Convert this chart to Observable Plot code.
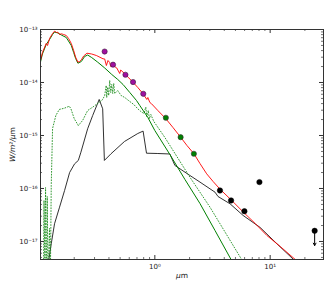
<!DOCTYPE html>
<html><head><meta charset="utf-8">
<script src="https://cdn.jsdelivr.net/npm/d3@7"></script>
<script src="https://cdn.jsdelivr.net/npm/@observablehq/plot@0.6"></script>
<style>html,body{margin:0;padding:0;background:#fff;} svg{display:block}</style>
</head><body><div id="chart"></div>
<script>
// ---- data (wavelength in µm, flux in W/m²/µm) ----
const redUm   = [0.101,0.106,0.1143,0.1174,0.1222,0.1298,0.135,0.1406,0.1443,0.1492,0.1545,0.1617,0.1707,0.1787,0.1886,0.1977,0.2056,0.2153,0.2228,0.2305,0.2414,0.2579,0.2833,0.3113,0.3553,0.3674,0.3801,0.3925,0.4062,0.4143,0.4339,0.4674,0.4961,0.5061,0.5483,0.5942,0.6476,0.7114,0.791,0.852,0.8694,0.9048,0.936,1.062,1.246,1.434,1.673,1.898,2.183,2.462,2.816,3.194,3.673,4.645,5.859,7.406,9.36,12.22,16.5,20.1];
const redFlux = [2.38e-14,3.68e-14,5.44e-14,4.99e-14,6.76e-14,8.40e-14,9.29e-14,8.78e-14,8.89e-14,8.05e-14,8.30e-14,8.05e-14,7.70e-14,6.76e-14,5.44e-14,4.02e-14,3.00e-14,2.42e-14,2.49e-14,2.68e-14,3.16e-14,3.57e-14,3.45e-14,3.23e-14,2.80e-14,2.78e-14,2.09e-14,2.60e-14,2.38e-14,2.00e-14,2.09e-14,1.88e-14,1.48e-14,1.72e-14,1.46e-14,1.22e-14,1.01e-14,8.05e-15,6.12e-15,4.78e-15,5.21e-15,4.20e-15,3.97e-15,2.96e-15,2.07e-15,1.42e-15,9.29e-16,6.48e-16,4.52e-16,2.96e-16,1.89e-16,1.36e-16,9.70e-17,5.94e-17,3.57e-17,2.19e-17,1.30e-17,8.05e-18,4.57e-18,3.16e-18];

const starUm   = [0.101,0.106,0.1143,0.1222,0.1298,0.135,0.1443,0.1545,0.1707,0.1886,0.1977,0.2056,0.2153,0.2305,0.2461,0.2615,0.2833,0.3194,0.3674,0.4227,0.4769,0.5300,0.6063,0.6933,0.7406,0.8694,1.0,1.3504,1.8236,2.462,3.325,4.580,5.5];
const starFlux = [2.23e-14,3.45e-14,5.21e-14,6.48e-14,8.05e-14,8.97e-14,8.59e-14,7.87e-14,7.06e-14,4.99e-14,3.68e-14,2.84e-14,2.31e-14,2.49e-14,3.09e-14,3.30e-14,2.96e-14,2.42e-14,1.88e-14,1.42e-14,1.14e-14,9.17e-15,6.48e-15,4.57e-15,3.68e-15,2.19e-15,1.24e-15,4.38e-16,1.48e-16,5.21e-17,1.61e-17,4.57e-18,2.2e-18];

const dotUm   = [0.1083,0.1094,0.1116,0.1128,0.1151,0.1167,0.1186,0.1222,0.1242,0.1264,0.1298,0.1386,0.1484,0.1640,0.1813,0.1872,0.2002,0.2170,0.2365,0.2615,0.2890,0.3304,0.3530,0.3674,0.3787,0.3825,0.3903,0.3981,0.4062,0.4143,0.4227,0.4312,0.4400,0.4490,0.4769,0.5093,0.5483,0.6063,0.6566,0.7114,0.7556,0.8024,0.8350,0.852,0.8781,0.8958,0.9230,0.9802,1.222,2.015,3.007,5.675,6.5];
const dotFlux = [2e-18,5.94e-17,2e-18,1.04e-16,2e-18,7.06e-17,2e-18,1.76e-17,2e-18,1.14e-16,1.36e-15,2.38e-15,3.10e-15,3.27e-15,3.57e-15,3.19e-15,2.07e-15,1.54e-15,1.92e-15,2.96e-15,3.42e-15,4.25e-15,4.78e-15,5.69e-15,8.78e-15,5.21e-15,8.15e-15,5.69e-15,1.09e-14,6.48e-15,9.17e-15,6.20e-15,9.57e-15,6.20e-15,7.06e-15,5.69e-15,5.21e-15,4.38e-15,3.85e-15,3.19e-15,2.84e-15,2.60e-15,3.42e-15,2.28e-15,2.96e-15,2.07e-15,2.49e-15,1.84e-15,9.17e-16,1.63e-16,4.44e-17,4.52e-18,2.5e-18];

const dustUm   = [0.118,0.1205,0.1264,0.135,0.1492,0.1650,0.1824,0.2015,0.2170,0.2286,0.2615,0.2890,0.3292,0.3530,0.3652,0.4169,0.5450,0.7114,0.791,0.8468,1.062,1.3504,1.4924,2.015,2.462,3.325,3.530,4.489,5.824,8.185,11.44,15.94,20];
const dustFlux = [3e-18,4.57e-18,9.05e-18,2.16e-17,4.44e-17,9.17e-17,2.00e-16,2.92e-16,3.38e-16,4.84e-16,1.34e-15,2.38e-15,4.78e-15,3.19e-15,3.38e-16,4.52e-16,7.70e-16,1.09e-15,1.21e-15,4.63e-16,4.57e-16,4.48e-16,2.72e-16,1.76e-16,1.32e-16,8.51e-17,7.06e-17,5.14e-17,3.10e-17,1.84e-17,9.05e-18,4.57e-18,2.88e-18];

const optUm   = [0.367,0.434,0.556,0.647,0.794];
const optFlux = [3.84e-14,2.17e-14,1.40e-14,1.02e-14,6.12e-15];
const nirUm   = [1.246,1.673,2.18];
const nirFlux = [2.16e-15,9.29e-16,4.52e-16];
const mirUm   = [3.67,4.58,5.98,8.07,24.3];
const mirFlux = [9.16e-17,5.94e-17,3.73e-17,1.32e-16,1.59e-17];
const limitUm = [24.3];
const limitFrom = [1.59e-17];
const limitTo = [8.4e-18];

const xDomain = [0.102, 29];
const yDomain = [4.57e-18, 1e-13];
const xMajor = [1, 10];
const xMinor = [0.2,0.3,0.4,0.5,0.6,0.7,0.8,0.9,2,3,4,5,6,7,8,9,20];
const yMajor = [1e-17,1e-16,1e-15,1e-14,1e-13];
const yMinor = [5e-18,6e-18,7e-18,8e-18,9e-18].concat(
  ...[-17,-16,-15,-14].map(e => [2,3,4,5,6,7,8,9].map(m => +(m + "e" + e))));
const xLabel = "μm";
const yLabel = "W/m²/μm";

// ---- chart ----
const W = 334, H = 282, mL = 40, mR = 11, mT = 29, mB = 23;
const fw = W - mL - mR, fh = H - mT - mB;
const zip = (a, b) => a.map((x, i) => ({x, y: b[i]}));
const supMap = {"-":"⁻","0":"⁰","1":"¹","2":"²","3":"³","4":"⁴","5":"⁵","6":"⁶","7":"⁷","8":"⁸","9":"⁹"};
const fmt = d => "10" + String(Math.round(Math.log10(d))).split("").map(c => supMap[c]).join("");
const axisColor = "#333";

const plot = Plot.plot({
  width: W, height: H, marginLeft: mL, marginRight: mR, marginTop: mT, marginBottom: mB,
  x: {type: "log", domain: xDomain},
  y: {type: "log", domain: yDomain},
  style: {fontFamily: "'DejaVu Sans', sans-serif", fontSize: "7px", background: "#fff", color: "#222"},
  marks: [
    Plot.line(zip(dustUm, dustFlux), {x: "x", y: "y", stroke: "#1a1a1a", strokeWidth: 0.9, clip: true}),
    Plot.line(zip(dotUm, dotFlux), {x: "x", y: "y", stroke: "#1f8f1f", strokeWidth: 0.9, strokeDasharray: "0.9,1.9", clip: true}),
    Plot.line(zip(starUm, starFlux), {x: "x", y: "y", stroke: "#008000", strokeWidth: 1, clip: true}),
    Plot.line(zip(redUm, redFlux), {x: "x", y: "y", stroke: "#ff0000", strokeWidth: 0.9, clip: true}),
    Plot.arrow(limitUm.map((x, i) => ({x, y1: limitFrom[i], y2: limitTo[i]})),
      {x1: "x", x2: "x", y1: "y1", y2: "y2", stroke: "#000", strokeWidth: 1, headLength: 4}),
    Plot.dot(zip(optUm, optFlux), {x: "x", y: "y", r: 2.6, fill: "#a010a0", stroke: "#3a1a3a", strokeWidth: 0.6}),
    Plot.dot(zip(nirUm, nirFlux), {x: "x", y: "y", r: 2.6, fill: "#008000", stroke: "#333", strokeWidth: 0.6}),
    Plot.dot(zip(mirUm, mirFlux), {x: "x", y: "y", r: 2.7, fill: "#000", stroke: "#000", strokeWidth: 0.5}),
    Plot.frame({stroke: axisColor, strokeWidth: 1}),
    Plot.tickX(xMajor, {x: d => d, insetTop: fh - 4, stroke: axisColor}),
    Plot.tickX(xMajor, {x: d => d, insetBottom: fh - 4, stroke: axisColor}),
    Plot.tickX(xMinor, {x: d => d, insetTop: fh - 2, stroke: axisColor, strokeWidth: 0.7}),
    Plot.tickX(xMinor, {x: d => d, insetBottom: fh - 2, stroke: axisColor, strokeWidth: 0.7}),
    Plot.tickY(yMajor, {y: d => d, insetRight: fw - 4, stroke: axisColor}),
    Plot.tickY(yMajor, {y: d => d, insetLeft: fw - 4, stroke: axisColor}),
    Plot.tickY(yMinor, {y: d => d, insetRight: fw - 2, stroke: axisColor, strokeWidth: 0.7}),
    Plot.tickY(yMinor, {y: d => d, insetLeft: fw - 2, stroke: axisColor, strokeWidth: 0.7}),
    Plot.axisX(xMajor, {tickSize: 0, tickPadding: 5, tickFormat: fmt, label: null}),
    Plot.axisY(yMajor, {tickSize: 0, tickPadding: 3, tickFormat: fmt, label: null}),
    Plot.text([yLabel], {frameAnchor: "left", dx: -28, rotate: -90, textAnchor: "middle", fontSize: 7.5}),
    Plot.text([xLabel], {frameAnchor: "bottom", dy: 18, fontSize: 7.5})
  ]
});
document.getElementById("chart").appendChild(plot);

// italic math-style parts of the axis labels
d3.select(plot).selectAll("text").each(function() {
  const t = d3.select(this);
  const s = t.text();
  if (s === yLabel || s === xLabel) {
    const head = s.slice(0, -1), tail = s.slice(-1);
    t.text(null);
    t.append("tspan").attr("font-style", "italic").text(head);
    t.append("tspan").text(tail);
  }
});
</script>
</body></html>
